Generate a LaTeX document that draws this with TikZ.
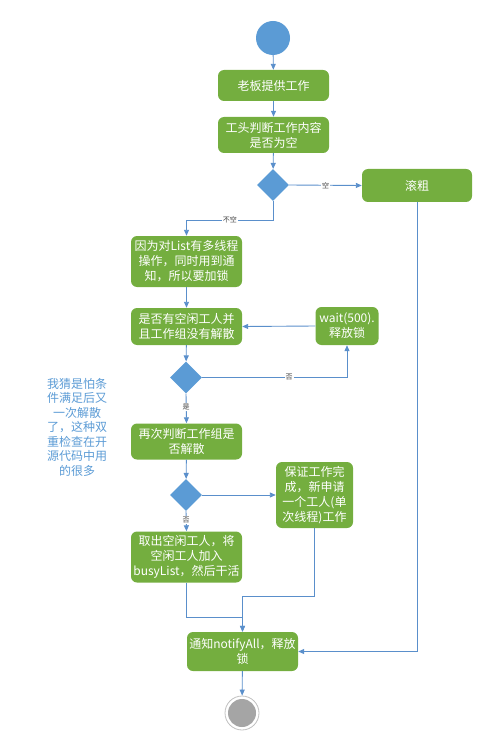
\documentclass[tikz,border=0pt]{standalone}
\usepackage{fontspec}
\usetikzlibrary{arrows.meta,shapes.geometric,calc}
\newfontfamily\cjk{Noto Sans CJK SC}
\definecolor{leaf}{HTML}{74AE3F}
\definecolor{sky}{HTML}{5B9BD5}
\definecolor{wire}{HTML}{5A8FCB}
\definecolor{ash}{HTML}{A5A5A5}
\begin{document}
\begin{tikzpicture}[x=1pt,y=-1pt,
  act/.style={rectangle,rounded corners=6pt,fill=leaf,text=white,
    font=\cjk\fontsize{12}{15}\selectfont,align=center,inner sep=0pt,minimum width=111pt},
  gate/.style={diamond,fill=sky,minimum width=32pt,minimum height=32pt,inner sep=0pt},
  flow/.style={wire,line width=0.9pt,-{Triangle[length=6pt,width=5pt]}},
  tag/.style={fill=white,inner sep=1pt,font=\cjk\fontsize{7}{8}\selectfont,text=black!75}]
\useasboundingbox (0,0) rectangle (491,735);
% --- start / end ------------------------------------------------------
\node[circle,fill=sky,minimum size=34pt,inner sep=0pt] (start) at (273,38) {};
\node[circle,draw=ash!70,line width=0.8pt,fill=white,minimum size=34pt,inner sep=0pt] (stop) at (242,713) {};
\node[circle,fill=ash,minimum size=28pt,inner sep=0pt] at (stop) {};
% --- actions ----------------------------------------------------------
\node[act,minimum height=31pt] (boss) at (273.5,85.5) {老板提供工作};
\node[act,minimum height=36pt] (judge) at (273.5,135) {工头判断工作内容\\是否为空};
\node[gate] (empty) at (273,185) {};
\node[act,minimum width=110pt,minimum height=33pt] (quit) at (417,185.5) {滚粗};
\node[act,minimum height=51pt] (lock) at (186.5,261.5) {因为对List有多线程\\操作，同时用到通\\知，所以要加锁};
\node[act,minimum height=37pt] (idle) at (186.5,326.5) {是否有空闲工人并\\且工作组没有解散};
\node[act,minimum width=63pt,minimum height=38pt] (wait) at (347,326) {wait(500).\\释放锁};
\node[gate] (hasidle) at (186,377.5) {};
\node[act,minimum height=36pt] (again) at (186.5,441.5) {再次判断工作组是\\否解散};
\node[gate] (gone) at (186,495) {};
\node[act,minimum width=77pt,minimum height=66pt] (hire) at (314.5,495) {保证工作完\\成，新申请\\一个工人(单\\次线程)工作};
\node[act,minimum height=51pt] (take) at (186.5,557) {取出空闲工人，将\\空闲工人加入\\busyList，然后干活};
\node[act,minimum height=39pt] (notify) at (242.5,651.5) {通知notifyAll，释放\\锁};
% --- remark -----------------------------------------------------------
\node[text=sky,align=center,font=\cjk\fontsize{12}{14.5}\selectfont] (note) at (77,427)
  {我猜是怕条\\件满足后又\\一次解散\\了，这种双\\重检查在开\\源代码中用\\的很多};
% --- connectors -------------------------------------------------------
\draw[flow] (start) -- (boss);
\draw[flow] (boss) -- (judge);
\draw[flow] (judge) -- (empty);
\draw[flow] (empty.east) -- node[tag] {空} (quit.west);
\draw[flow] (empty.south) -- ++(0,19) -| node[tag,pos=0.25] {不空} (lock.north);
\draw[flow] (lock) -- (idle);
\draw[flow] (wait.west) -- (idle.east);
\draw[flow] (idle) -- (hasidle);
\draw[flow] (hasidle.east) -| node[tag,pos=0.3] {否} (wait.south);
\draw[flow] (hasidle.south) -- node[tag,pos=0.45] {是} (again.north);
\draw[flow] (again) -- (gone);
\draw[flow] (gone.east) -- (hire.west);
\draw[flow] (gone.south) -- node[tag,pos=0.45] {否} (take.north);
\draw[flow] (take.south) -- ++(0,35) -| (notify.north);
\draw[flow] (hire.south) -- ++(0,68) -| (notify.north);
\draw[flow] (quit.south) |- (notify.east);
\draw[flow] (notify) -- (stop);
\end{tikzpicture}
\end{document}
